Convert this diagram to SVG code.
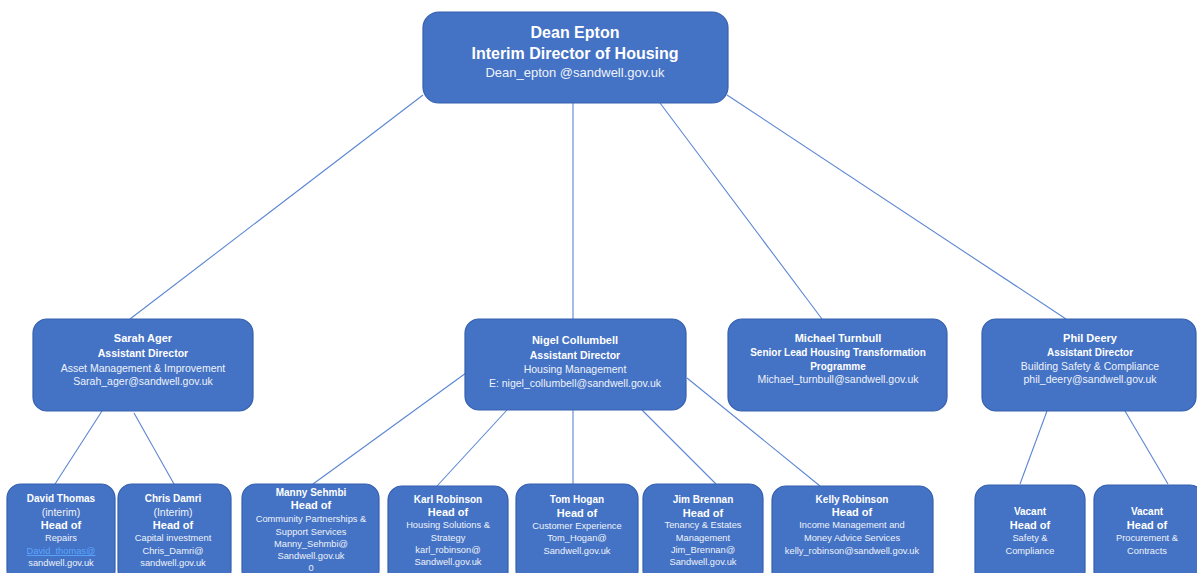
<svg xmlns="http://www.w3.org/2000/svg" width="1197" height="573" viewBox="0 0 1197 573">
<style>
.box{fill:#4472C4;stroke:#3560AE;stroke-width:1.2}
text{font-family:"Liberation Sans",Arial,sans-serif;fill:#ffffff;text-anchor:middle}
.t1{font-size:16px;font-weight:bold}
.t1r{font-size:13px;fill:#eef2fb}
.n{font-size:11px;font-weight:bold}
.b{font-size:10.5px;font-weight:bold}
.r{font-size:10.5px;fill:#eef2fb}
.sn{font-size:10px;font-weight:bold}
.sh{font-size:11px;font-weight:bold}
.s{font-size:9.3px;fill:#eef2fb}
.si{font-size:10.5px;fill:#eef2fb}
.lnk{font-size:9.3px;fill:#5aa6ff;text-decoration:underline}
.conn line{stroke:#5b86d2;stroke-width:1.1}
</style>
<rect width="1197" height="573" fill="#ffffff"/>
<g class="conn" id="connectors">
<line x1="423" y1="95" x2="130" y2="319"/>
<line x1="573" y1="103" x2="573" y2="319"/>
<line x1="660" y1="103" x2="822" y2="319"/>
<line x1="727" y1="95" x2="1066" y2="319"/>
<line x1="102" y1="411" x2="55" y2="484"/>
<line x1="134" y1="413" x2="174" y2="484"/>
<line x1="466" y1="373" x2="313" y2="484"/>
<line x1="507" y1="410" x2="437" y2="486"/>
<line x1="573" y1="410" x2="573" y2="484"/>
<line x1="642" y1="410" x2="716" y2="484"/>
<line x1="687" y1="378" x2="820" y2="486"/>
<line x1="1047" y1="411" x2="1020" y2="484"/>
<line x1="1125" y1="411" x2="1168" y2="484"/>
</g>
<g id="dean">
<rect class="box" x="423" y="12" width="305" height="91" rx="16"/>
<text class="t1" x="575" y="38">Dean Epton</text>
<text class="t1" x="575" y="59">Interim Director of Housing</text>
<text class="t1r" x="575" y="77">Dean_epton @sandwell.gov.uk</text>
</g>
<g id="sarah">
<rect class="box" x="33" y="319" width="220" height="92" rx="14"/>
<text class="n" x="143" y="342">Sarah Ager</text>
<text class="b" x="143" y="357">Assistant Director</text>
<text class="r" x="143" y="372">Asset Management &amp; Improvement</text>
<text class="r" x="143" y="385">Sarah_ager@sandwell.gov.uk</text>
</g>
<g id="nigel">
<rect class="box" x="465" y="319" width="221" height="91" rx="14"/>
<text class="n" x="575" y="344">Nigel Collumbell</text>
<text class="b" x="575" y="359">Assistant Director</text>
<text class="r" x="575" y="373">Housing Management</text>
<text class="r" x="575" y="387">E:  nigel_collumbell@sandwell.gov.uk</text>
</g>
<g id="michael">
<rect class="box" x="728" y="319" width="219" height="92" rx="14"/>
<text class="n" x="838" y="342">Michael Turnbull</text>
<text class="sn" x="838" y="356">Senior Lead Housing Transformation</text>
<text class="sn" x="838" y="370">Programme</text>
<text class="r" x="838" y="383">Michael_turnbull@sandwell.gov.uk</text>
</g>
<g id="phil">
<rect class="box" x="982" y="319" width="214" height="92" rx="14"/>
<text class="n" x="1090" y="342">Phil Deery</text>
<text class="sn" x="1090" y="356">Assistant Director</text>
<text class="r" x="1090" y="370">Building Safety &amp; Compliance</text>
<text class="r" x="1090" y="383">phil_deery@sandwell.gov.uk</text>
</g>
<g id="david">
<rect class="box" x="7" y="484" width="108" height="100" rx="14"/>
<text class="sn" x="61" y="502">David Thomas</text>
<text class="si" x="61" y="516">(interim)</text>
<text class="sh" x="61" y="529">Head of</text>
<text class="s" x="61" y="541">Repairs</text>
<text class="lnk" x="61" y="554">David_thomas@</text>
<text class="s" x="61" y="566">sandwell.gov.uk</text>
</g>
<g id="chris">
<rect class="box" x="118" y="484" width="113" height="100" rx="14"/>
<text class="sn" x="173" y="502">Chris Damri</text>
<text class="si" x="173" y="516">(Interim)</text>
<text class="sh" x="173" y="529">Head of</text>
<text class="s" x="173" y="541">Capital investment</text>
<text class="s" x="173" y="554">Chris_Damri@</text>
<text class="s" x="173" y="566">sandwell.gov.uk</text>
</g>
<g id="manny">
<rect class="box" x="242" y="484" width="137" height="100" rx="14"/>
<text class="sn" x="311" y="496">Manny Sehmbi</text>
<text class="sh" x="311" y="509">Head of</text>
<text class="s" x="311" y="522">Community Partnerships &amp;</text>
<text class="s" x="311" y="535">Support Services</text>
<text class="s" x="311" y="547">Manny_Sehmbi@</text>
<text class="s" x="311" y="559">Sandwell.gov.uk</text>
<text class="s" x="311" y="571">0</text>
</g>
<g id="karl">
<rect class="box" x="388" y="486" width="120" height="100" rx="14"/>
<text class="sn" x="448" y="503">Karl Robinson</text>
<text class="sh" x="448" y="516">Head of</text>
<text class="s" x="448" y="528">Housing Solutions &amp;</text>
<text class="s" x="448" y="541">Strategy</text>
<text class="s" x="448" y="553">karl_robinson@</text>
<text class="s" x="448" y="565">Sandwell.gov.uk</text>
</g>
<g id="tom">
<rect class="box" x="516" y="484" width="122" height="100" rx="14"/>
<text class="sn" x="577" y="503">Tom Hogan</text>
<text class="sh" x="577" y="517">Head of</text>
<text class="s" x="577" y="529">Customer Experience</text>
<text class="s" x="577" y="541">Tom_Hogan@</text>
<text class="s" x="577" y="554">Sandwell.gov.uk</text>
</g>
<g id="jim">
<rect class="box" x="643" y="484" width="120" height="100" rx="14"/>
<text class="sn" x="703" y="503">Jim Brennan</text>
<text class="sh" x="703" y="517">Head of</text>
<text class="s" x="703" y="528">Tenancy &amp; Estates</text>
<text class="s" x="703" y="541">Management</text>
<text class="s" x="703" y="553">Jim_Brennan@</text>
<text class="s" x="703" y="565">Sandwell.gov.uk</text>
</g>
<g id="kelly">
<rect class="box" x="772" y="486" width="161" height="100" rx="14"/>
<text class="sn" x="852" y="503">Kelly Robinson</text>
<text class="sh" x="852" y="516">Head of</text>
<text class="s" x="852" y="528">Income Management and</text>
<text class="s" x="852" y="541">Money Advice Services</text>
<text class="s" x="852" y="554">kelly_robinson@sandwell.gov.uk</text>
</g>
<g id="vacant1">
<rect class="box" x="975" y="485" width="110" height="100" rx="14"/>
<text class="sn" x="1030" y="515">Vacant</text>
<text class="sh" x="1030" y="529">Head of</text>
<text class="s" x="1030" y="541">Safety &amp;</text>
<text class="s" x="1030" y="554">Compliance</text>
</g>
<g id="vacant2">
<rect class="box" x="1094" y="485" width="110" height="100" rx="14"/>
<text class="sn" x="1147" y="515">Vacant</text>
<text class="sh" x="1147" y="529">Head of</text>
<text class="s" x="1147" y="541">Procurement &amp;</text>
<text class="s" x="1147" y="554">Contracts</text>
</g>
</svg>
